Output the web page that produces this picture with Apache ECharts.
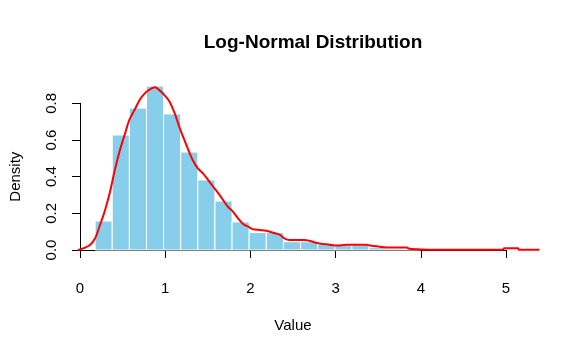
<!DOCTYPE html>
<html><head><meta charset="utf-8">
<script src="https://cdn.jsdelivr.net/npm/echarts@6/dist/echarts.min.js"></script>
<style>html,body{margin:0;padding:0;background:#fff}#c{width:581px;height:355px}</style>
</head><body><div id="c"></div>
<script>
// Histogram bin edges and densities
const binEdges = [0.2,0.4,0.6,0.8,1.0,1.2,1.4,1.6,1.8,2.0,2.2,2.4,2.6,2.8,3.0,3.2,3.4,3.6,3.8,4.0];
const binDensity = [0.158,0.627,0.774,0.894,0.742,0.534,0.382,0.267,0.153,0.095,0.095,0.045,0.045,0.031,0.024,0.027,0.013,0.007,0.005];
// Kernel density curve
const densX = [0,0.06,0.14,0.2,0.25,0.31,0.37,0.43,0.49,0.55,0.6,0.66,0.72,0.78,0.84,0.9,0.95,1.01,1.07,1.13,1.19,1.29,1.34,1.4,1.46,1.52,1.58,1.64,1.69,1.75,1.81,1.87,1.93,1.99,2.04,2.12,2.2,2.28,2.36,2.41,2.47,2.65,2.71,2.82,2.94,3.02,3.14,3.37,3.41,3.52,3.64,3.84,3.87,3.97,4.1,4.96,4.98,5.14,5.15,5.39];
const densY = [0,0.009,0.027,0.064,0.127,0.209,0.309,0.436,0.545,0.636,0.709,0.763,0.818,0.854,0.876,0.887,0.872,0.845,0.809,0.745,0.663,0.545,0.491,0.445,0.418,0.382,0.345,0.309,0.276,0.236,0.209,0.173,0.142,0.127,0.114,0.109,0.105,0.094,0.082,0.064,0.055,0.055,0.049,0.036,0.029,0.024,0.029,0.029,0.024,0.018,0.013,0.013,0.007,0.004,0.002,0.002,0.009,0.009,0.002,0.002];
const xTicks = [0,1,2,3,4,5];
const yTicks = [0,0.2,0.4,0.6,0.8];

const histData = binDensity.map((v,i)=>[binEdges[i], binEdges[i+1], v]);
const lineData = densX.map((x,i)=>[x, densY[i]]);

const FONT = 'Liberation Sans, Arial, sans-serif';
const chart = echarts.init(document.getElementById('c'), null, {renderer:'canvas'});
chart.setOption({
  animation:false,
  backgroundColor:'#fff',
  title:{text:'Log-Normal Distribution', left:308, textAlign:'center', top:28,
    textStyle:{fontFamily:FONT, fontWeight:'bold', fontSize:19, color:'#000'}},
  grid:[
    {left:78, right:75, top:103.3, bottom:105},
    {left:78, right:40.8, top:75.8, bottom:105}
  ],
  xAxis:[
    {gridIndex:0, type:'value', min:xTicks[0], max:xTicks[xTicks.length-1], interval:1, offset:7.3,
     name:'Value', nameLocation:'middle', nameGap:61,
     nameTextStyle:{fontFamily:FONT, fontSize:15, color:'#000'},
     axisLine:{lineStyle:{color:'#000', width:1}},
     axisTick:{length:8, lineStyle:{color:'#000'}},
     axisLabel:{fontFamily:FONT, fontSize:15, color:'#000', margin:24},
     splitLine:{show:false}},
    {gridIndex:1, type:'value', min:0, max:5.4, show:false}
  ],
  yAxis:[
    {gridIndex:0, type:'value', min:yTicks[0], max:yTicks[yTicks.length-1], interval:0.2,
     name:'Density', nameLocation:'middle', nameGap:57, nameRotate:90,
     nameTextStyle:{fontFamily:FONT, fontSize:15, color:'#000'},
     axisLine:{show:true, lineStyle:{color:'#000', width:1}},
     axisTick:{show:true, length:8, lineStyle:{color:'#000'}},
     axisLabel:{fontFamily:FONT, fontSize:15, color:'#000', rotate:90, margin:21,
       formatter:v=>v.toFixed(1)},
     splitLine:{show:false}},
    {gridIndex:1, type:'value', min:0, max:0.95, show:false}
  ],
  series:[
    {type:'custom', xAxisIndex:1, yAxisIndex:1, data:histData, clip:false,
     renderItem:function(params, api){
       const p0 = api.coord([api.value(0), api.value(2)]);
       const p1 = api.coord([api.value(1), 0]);
       return {type:'rect', shape:{x:p0[0], y:p0[1], width:p1[0]-p0[0], height:p1[1]-p0[1]},
         style:{fill:'#87CEEB', stroke:'#ffffff', lineWidth:1}};
     }},
    {type:'line', xAxisIndex:1, yAxisIndex:1, data:lineData, smooth:0.3, showSymbol:false, clip:false,
     lineStyle:{color:'#ff0000', width:2}}
  ]
});
</script></body></html>
